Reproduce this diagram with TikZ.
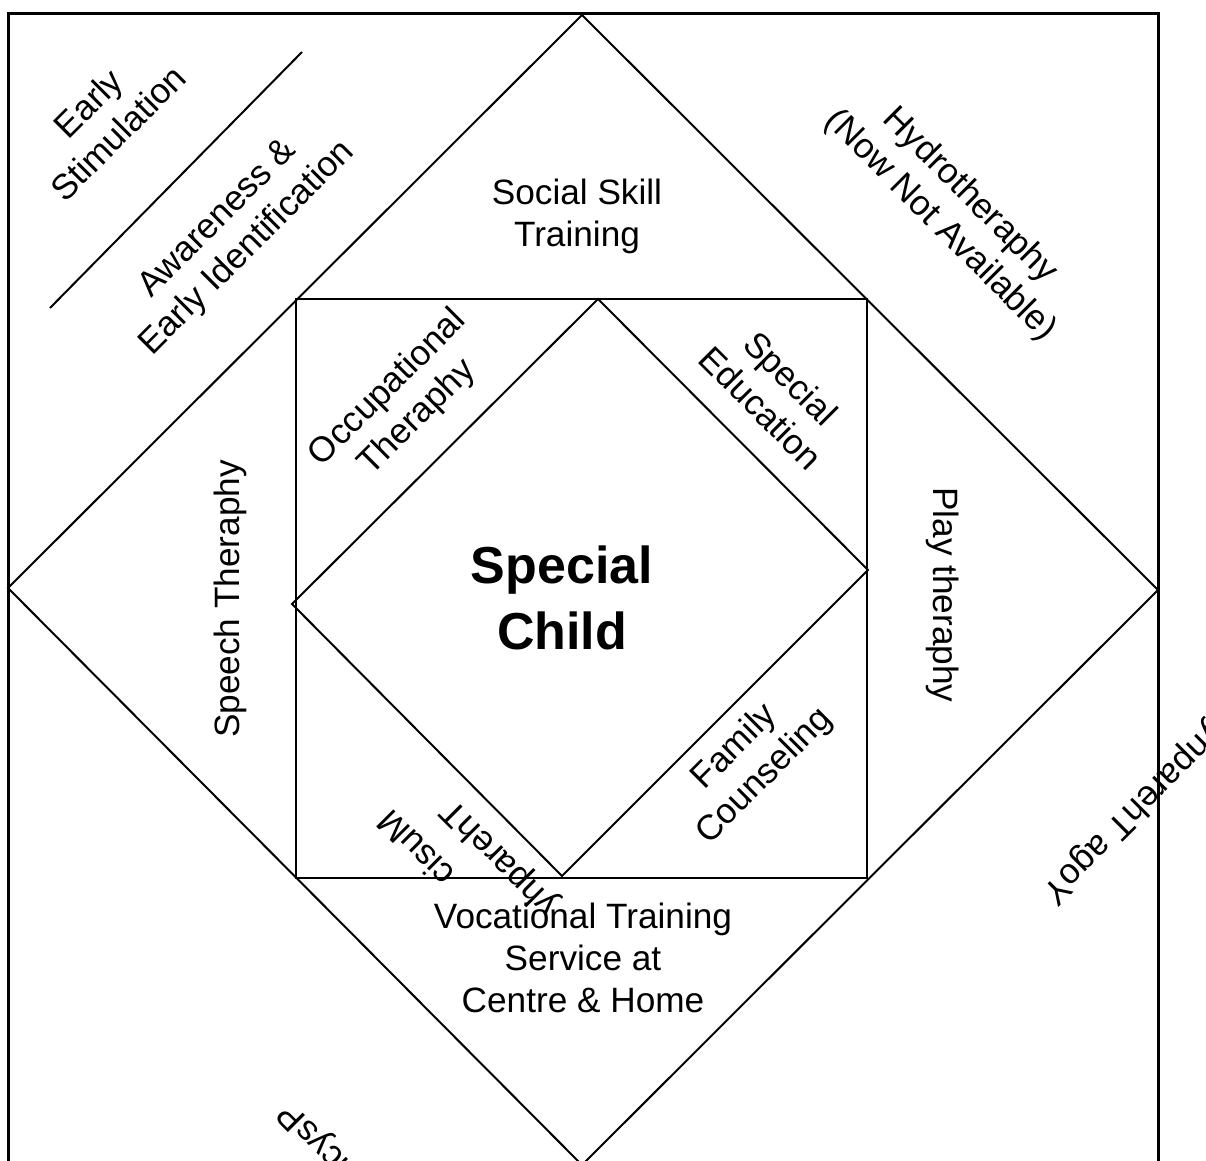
\documentclass[tikz,border=0pt]{standalone}
\usepackage{fontspec}
\setmainfont{Liberation Sans}
\ExplSyntaxOn
\cs_new:Npn \flipword #1 { \tl_reverse:n {#1} }
\ExplSyntaxOff

\begin{document}
\begin{tikzpicture}[
    x=0.5pt, y=-0.5pt,
    frame/.style={line width=1pt, line join=miter},
    txt/.style={font=\fontsize{17.6}{21}\selectfont, align=center, inner sep=0pt},
    bigtxt/.style={font=\fontsize{26}{33}\selectfont\bfseries, align=center, inner sep=0pt},
    turned/.style={txt},
]
\useasboundingbox (0,0) rectangle (1206,1161);
\clip (0,0) rectangle (1206,1161);

% Outer frame and big diamond
\coordinate (btop) at (582,15);
\coordinate (bright) at (1158,590);
\coordinate (bbot) at (582,1165);
\coordinate (bleft) at (8,588);
\draw[line width=1.5pt] (8,14) rectangle (1158,1220);
\draw[frame] (btop) -- (bright) -- (bbot) -- (bleft) -- cycle;

% Inner square and inner diamond
\coordinate (sqa) at (296,299);
\coordinate (sqb) at (867,878);
\draw[frame] (sqa) rectangle (sqb);
\coordinate (stop) at (598,299);
\coordinate (sright) at (868,570);
\coordinate (sbot) at (562,876);
\coordinate (sleft) at (292,604);
\draw[frame] (stop) -- (sright) -- (sbot) -- (sleft) -- cycle;

% Corner divider
\coordinate (da) at (50,308);
\coordinate (db) at (302,52);
\draw[frame] (da) -- (db);

% Labels
\node[bigtxt] (child) at (562,598) {Special\\Child};
\node[txt] (social) at (577,216) {Social Skill\\Training};
\node[txt, rotate=45] (early) at (103,118) {Early\\Stimulation};
\node[txt, rotate=45] (aware) at (233,234) {Awareness \&\\Early Identification};
\node[txt, rotate=-45] (hydro) at (955,211) {Hydrotheraphy\\(Now Not Available)};
\node[txt, rotate=45] (occu) at (403,403) {Occupational\\Theraphy};
\node[txt, rotate=-45] (sped) at (776,393) {Special\\Education};
\node[txt, rotate=90] (speech) at (230,599) {Speech Theraphy};
\node[txt, rotate=-90] (play) at (943,595) {Play theraphy};
\node[txt, rotate=45] (family) at (750,762) {Family\\Counseling};
\node[txt] (voc) at (583,958) {Vocational Training\\Service at\\Centre \& Home};

% Labels printed with turned letters
\node[turned, rotate=135, font=\fontsize{17.6}{25}\selectfont] (music) at (459,852)
    {\hspace*{33pt}\flipword{Music}\\\flipword{Theraphy}\hspace*{33pt}};
\node[turned, rotate=225] (yoga) at (1132,812) {\flipword{Yoga Theraphy}};
\node[turned, rotate=135] (psycho) at (374,1197) {\flipword{Psychotheraphy}};

\end{tikzpicture}
\end{document}
